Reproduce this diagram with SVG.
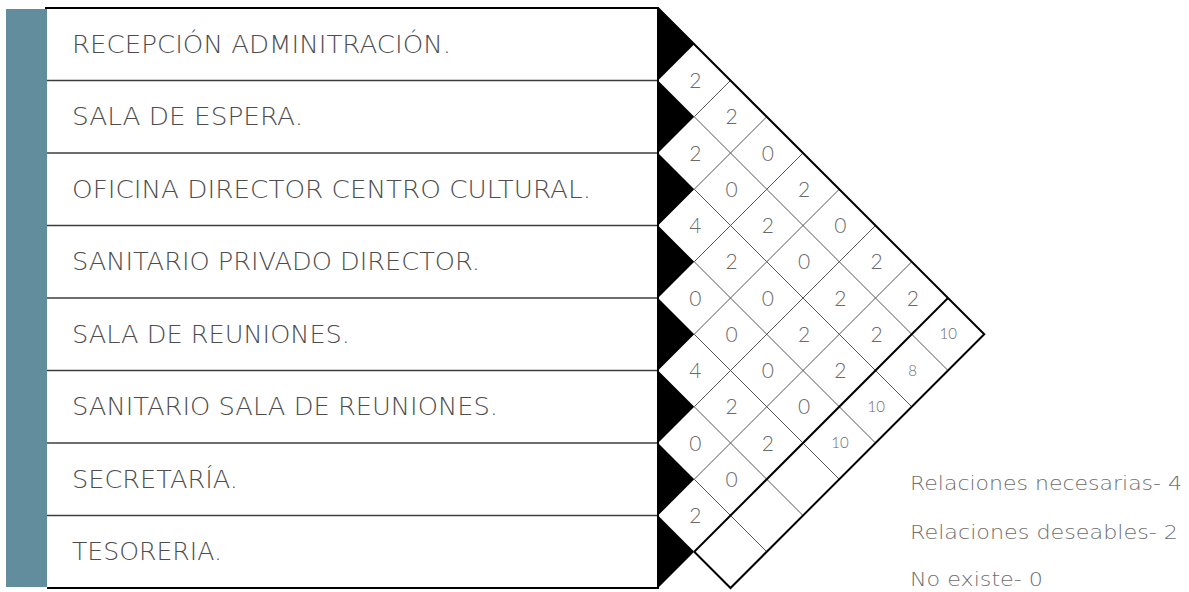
<svg xmlns="http://www.w3.org/2000/svg" width="1189" height="592" viewBox="0 0 1189 592">
<style>
.lbl{font-family:"DejaVu Sans","Open Sans",sans-serif;font-weight:200;font-size:24px;fill:#4d4d4d}
.num{font-family:Lato,"Open Sans","Liberation Sans",sans-serif;font-weight:300;font-size:21px;fill:#6b6b6b;text-anchor:middle}
.tot{font-family:Lato,"Open Sans","Liberation Sans",sans-serif;font-weight:300;font-size:15px;fill:#6b6b6b;text-anchor:middle}
.leg{font-family:"DejaVu Sans","Open Sans",sans-serif;font-weight:200;font-size:19.5px;fill:#6e6e6e}
.row{stroke:#3c3c3c;stroke-width:1.5;fill:none}
.thin{stroke:#555;stroke-width:1;fill:none}
.thick{stroke:#000;stroke-width:2;fill:none}
.tri{fill:#000}
</style>
<rect x="6" y="9" width="41" height="578" fill="#628d9c"/>
<g id="table">
<line class="thick" x1="45" y1="8" x2="658" y2="8"/>
<line class="thick" x1="47" y1="588" x2="658" y2="588"/>
<line class="row" x1="47" y1="80.5" x2="658" y2="80.5"/>
<line class="row" x1="47" y1="153" x2="658" y2="153"/>
<line class="row" x1="47" y1="225.5" x2="658" y2="225.5"/>
<line class="row" x1="47" y1="298" x2="658" y2="298"/>
<line class="row" x1="47" y1="370.5" x2="658" y2="370.5"/>
<line class="row" x1="47" y1="443" x2="658" y2="443"/>
<line class="row" x1="47" y1="515.5" x2="658" y2="515.5"/>
<line class="thick" x1="658" y1="7" x2="658" y2="589"/>
</g>
<g id="n0"><polygon class="tri" points="658,8 694.25,44.25 658,80.5"/><text class="lbl" x="72" y="53" textLength="379" lengthAdjust="spacingAndGlyphs">RECEPCIÓN ADMINITRACIÓN.</text></g>
<g id="n1"><polygon class="tri" points="658,80.5 694.25,116.75 658,153"/><text class="lbl" x="72" y="125" textLength="231" lengthAdjust="spacingAndGlyphs">SALA DE ESPERA.</text></g>
<g id="n2"><polygon class="tri" points="658,153 694.25,189.25 658,225.5"/><text class="lbl" x="72" y="197.5" textLength="519" lengthAdjust="spacingAndGlyphs">OFICINA DIRECTOR CENTRO CULTURAL.</text></g>
<g id="n3"><polygon class="tri" points="658,225.5 694.25,261.75 658,298"/><text class="lbl" x="72" y="270" textLength="408" lengthAdjust="spacingAndGlyphs">SANITARIO PRIVADO DIRECTOR.</text></g>
<g id="n4"><polygon class="tri" points="658,298 694.25,334.25 658,370.5"/><text class="lbl" x="72" y="342.5" textLength="278" lengthAdjust="spacingAndGlyphs">SALA DE REUNIONES.</text></g>
<g id="n5"><polygon class="tri" points="658,370.5 694.25,406.75 658,443"/><text class="lbl" x="72" y="415" textLength="426" lengthAdjust="spacingAndGlyphs">SANITARIO SALA DE REUNIONES.</text></g>
<g id="n6"><polygon class="tri" points="658,443 694.25,479.25 658,515.5"/><text class="lbl" x="72" y="487.5" textLength="166" lengthAdjust="spacingAndGlyphs">SECRETARÍA.</text></g>
<g id="n7"><polygon class="tri" points="658,515.5 694.25,551.75 658,588"/><text class="lbl" x="72" y="560" textLength="150" lengthAdjust="spacingAndGlyphs">TESORERIA.</text></g>
<g id="connectors">
<line class="thin" x1="694.25" y1="116.75" x2="948" y2="370.5"/>
<line class="thin" x1="694.25" y1="189.25" x2="911.75" y2="406.75"/>
<line class="thin" x1="694.25" y1="261.75" x2="875.5" y2="443"/>
<line class="thin" x1="694.25" y1="334.25" x2="839.25" y2="479.25"/>
<line class="thin" x1="694.25" y1="406.75" x2="803" y2="515.5"/>
<line class="thin" x1="694.25" y1="479.25" x2="766.75" y2="551.75"/>
<line class="thin" x1="730.5" y1="80.5" x2="694.25" y2="116.75"/>
<line class="thin" x1="766.75" y1="116.75" x2="694.25" y2="189.25"/>
<line class="thin" x1="803" y1="153" x2="694.25" y2="261.75"/>
<line class="thin" x1="839.25" y1="189.25" x2="694.25" y2="334.25"/>
<line class="thin" x1="875.5" y1="225.5" x2="694.25" y2="406.75"/>
<line class="thin" x1="911.75" y1="261.75" x2="694.25" y2="479.25"/>
<line class="thick" x1="948" y1="298" x2="694.25" y2="551.75"/>
<polyline class="thick" points="658,8 984.25,334.25 730.5,588 694.25,551.75"/>
</g>
<g id="values">
<text class="num" x="695.25" y="88">2</text>
<text class="num" x="695.25" y="160.5">2</text>
<text class="num" x="695.25" y="233">4</text>
<text class="num" x="695.25" y="305.5">0</text>
<text class="num" x="695.25" y="378">4</text>
<text class="num" x="695.25" y="450.5">0</text>
<text class="num" x="695.25" y="523">2</text>
<text class="num" x="731.5" y="124.25">2</text>
<text class="num" x="731.5" y="196.75">0</text>
<text class="num" x="731.5" y="269.25">2</text>
<text class="num" x="731.5" y="341.75">0</text>
<text class="num" x="731.5" y="414.25">2</text>
<text class="num" x="731.5" y="486.75">0</text>
<text class="num" x="767.75" y="160.5">0</text>
<text class="num" x="767.75" y="233">2</text>
<text class="num" x="767.75" y="305.5">0</text>
<text class="num" x="767.75" y="378">0</text>
<text class="num" x="767.75" y="450.5">2</text>
<text class="num" x="804" y="196.75">2</text>
<text class="num" x="804" y="269.25">0</text>
<text class="num" x="804" y="341.75">2</text>
<text class="num" x="804" y="414.25">0</text>
<text class="num" x="840.25" y="233">0</text>
<text class="num" x="840.25" y="305.5">2</text>
<text class="num" x="840.25" y="378">2</text>
<text class="num" x="876.5" y="269.25">2</text>
<text class="num" x="876.5" y="341.75">2</text>
<text class="num" x="912.75" y="305.5">2</text>
<text class="tot" x="948.25" y="339">10</text>
<text class="tot" x="912.5" y="376">8</text>
<text class="tot" x="876.25" y="412">10</text>
<text class="tot" x="840" y="448">10</text>
</g>
<g id="legend">
<text class="leg" x="910" y="490" textLength="272" lengthAdjust="spacingAndGlyphs">Relaciones necesarias- 4</text>
<text class="leg" x="910" y="539" textLength="268" lengthAdjust="spacingAndGlyphs">Relaciones deseables- 2</text>
<text class="leg" x="910" y="586" textLength="133" lengthAdjust="spacingAndGlyphs">No existe- 0</text>
</g>
</svg>
